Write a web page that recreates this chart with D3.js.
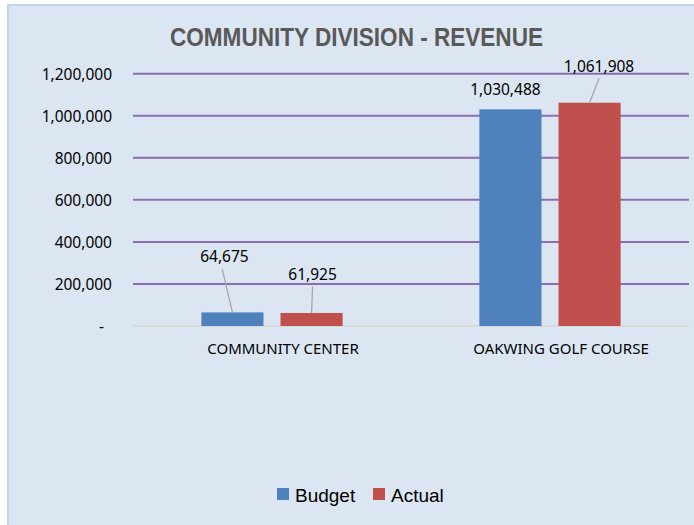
<!DOCTYPE html>
<html><head><meta charset="utf-8">
<script src="https://cdn.jsdelivr.net/npm/d3@7"></script>
<style>
html,body{margin:0;padding:0;background:#fff;}
svg{display:block;}
</style></head>
<body>
<svg id="chart" width="694" height="525"></svg>
<script>
const title = "COMMUNITY DIVISION - REVENUE";
const categories = ["COMMUNITY CENTER", "OAKWING GOLF COURSE"];
const seriesNames = ["Budget", "Actual"];
const budget = [64675, 1030488];
const actual = [61925, 1061908];
const yTicks = [0, 200000, 400000, 600000, 800000, 1000000, 1200000];
const colors = ["#4f81bd", "#c0504d"];

const svg = d3.select("#chart");
const W = 694, H = 525;
const plot = {left: 133, right: 689, top: 73.7, bottom: 326};
const FONT = "'Noto Sans', 'Open Sans', sans-serif";

// chart background
svg.append("rect").attr("x", 8).attr("y", 5).attr("width", W).attr("height", H)
  .attr("fill", "#dce6f2").attr("stroke", "#c3d3e8").attr("stroke-width", 2);

svg.append("text").attr("x", 356.5).attr("y", 46)
  .attr("text-anchor", "middle")
  .attr("font-family", "'Liberation Sans Narrow', 'Arial Narrow', 'Liberation Sans', sans-serif")
  .attr("font-weight", "bold").attr("font-size", 26).attr("fill", "#595959")
  .attr("textLength", 373).attr("lengthAdjust", "spacingAndGlyphs")
  .text(title);

const x0 = d3.scaleBand().domain(categories).range([plot.left, plot.right]).paddingInner(0).paddingOuter(0);
const bw = x0.bandwidth();
const x1 = d3.scaleBand().domain(seriesNames).range([bw * 0.246, bw * 0.754]).paddingInner(0.215).paddingOuter(0);
const y = d3.scaleLinear().domain([0, 1200000]).range([plot.bottom, plot.top]);

// gridlines
svg.append("g").selectAll("line").data(yTicks).join("line")
  .attr("x1", plot.left).attr("x2", plot.right)
  .attr("y1", d => y(d)).attr("y2", d => y(d))
  .attr("stroke", d => d === 0 ? "#d9d9d9" : "#8a6fb0").attr("stroke-width", 2);

// y axis labels
const fmt = d3.format(",");
const yAxis = d3.axisLeft(y).tickValues(yTicks).tickSize(0).tickPadding(0)
  .tickFormat(d => d === 0 ? "-" : fmt(d));
const ya = svg.append("g").attr("transform", `translate(112,0)`).call(yAxis);
ya.select(".domain").remove();
ya.selectAll("text").attr("font-family", FONT)
  .attr("font-size", 15.5).attr("fill", "#000")
  .attr("dy", "0.35em")
  .attr("dx", d => d === 0 ? -8 : 0);

// x labels
const xAxis = d3.axisBottom(x0).tickSize(0).tickPadding(0);
const xa = svg.append("g").attr("transform", `translate(11,${plot.bottom + 17})`).call(xAxis);
xa.select(".domain").remove();
xa.selectAll("text").attr("font-family", FONT)
  .attr("font-size", 15).attr("fill", "#000");

// bars
const rows = categories.map((c, i) => ({cat: c, vals: [budget[i], actual[i]]}));
const groups = svg.append("g").selectAll("g").data(rows).join("g")
  .attr("transform", d => `translate(${x0(d.cat)},0)`);
groups.selectAll("rect").data(d => d.vals.map((v, j) => ({s: seriesNames[j], v, j}))).join("rect")
  .attr("x", d => x1(d.s)).attr("width", x1.bandwidth())
  .attr("y", d => y(d.v)).attr("height", d => y(0) - y(d.v))
  .attr("fill", d => colors[d.j]);

// data labels with leader lines (label offsets relative to bar top)
const labelOffsets = [
  [[-8, -56], [1, -39]],
  [[-5, -20], [9.5, -37]]
];
const lbl = svg.append("g");
rows.forEach((r, i) => {
  r.vals.forEach((v, j) => {
    const cx = x0(r.cat) + x1(seriesNames[j]) + x1.bandwidth() / 2;
    const top = y(v);
    const [dx, dy] = labelOffsets[i][j];
    const lx = cx + dx, ly = top + dy;
    if (Math.abs(dy) > 25) {
      lbl.append("line").attr("x1", lx - (i === 0 && j === 0 ? 2.3 : 0)).attr("y1", ly + 12.5).attr("x2", cx).attr("y2", top)
        .attr("stroke", "#a6a6a6").attr("stroke-width", 1.3);
    }
    lbl.append("text").attr("x", lx).attr("y", ly).attr("text-anchor", "middle")
      .attr("dominant-baseline", "central")
      .attr("font-family", FONT).attr("font-size", 15.5)
      .attr("fill", "#000").text(fmt(v));
  });
});

// legend
const leg = svg.append("g").attr("font-family", "'Liberation Sans', Arial, sans-serif");
const legX = [277, 373];
seriesNames.forEach((s, j) => {
  leg.append("rect").attr("x", legX[j]).attr("y", 488).attr("width", 12).attr("height", 12).attr("fill", colors[j]);
  leg.append("text").attr("x", legX[j] + 18).attr("y", 502).attr("font-size", 19).attr("fill", "#000").text(s);
});
</script>
</body></html>
